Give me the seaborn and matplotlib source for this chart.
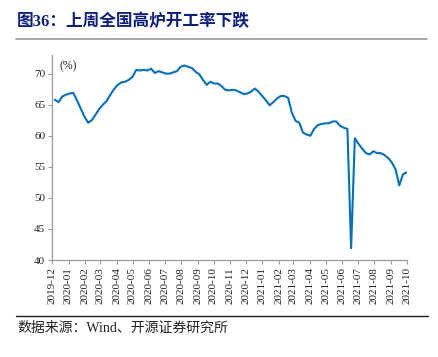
import numpy as np
import pandas as pd
import matplotlib
matplotlib.use("Agg")
import matplotlib.pyplot as plt
import matplotlib.dates as mdates
import seaborn as sns

# Weekly blast furnace operating rate (%)
dates = pd.date_range("2019-12-06", periods=96, freq="7D")
rate = [
    65.8, 65.4, 66.3, 66.6, 66.8, 66.9, 65.7, 64.4, 63.1, 62.1,
    62.5, 63.4, 64.3, 65.0, 65.6, 66.6, 67.5, 68.2, 68.6, 68.7,
    69.0, 69.5, 70.6, 70.5, 70.6, 70.5, 70.8, 70.1, 70.4, 70.2,
    70.0, 70.0, 70.2, 70.4, 71.1, 71.3, 71.1, 70.9, 70.3, 69.9,
    69.0, 68.2, 68.7, 68.4, 68.4, 68.0, 67.4, 67.3, 67.4, 67.3,
    67.0, 66.7, 66.8, 67.1, 67.6, 67.1, 66.4, 65.7, 64.9, 65.4,
    66.0, 66.4, 66.4, 66.1, 63.7, 62.4, 62.1, 60.5, 60.2, 60.0,
    61.1, 61.7, 61.9, 62.0, 62.0, 62.3, 62.3, 61.6, 61.3, 61.1,
    41.9, 59.6, 58.7, 57.9, 57.2, 57.0, 57.5, 57.2, 57.2, 56.9,
    56.4, 55.7, 54.6, 52.0, 53.8, 54.1,
]
yticks = [40, 45, 50, 55, 60, 65, 70]

title = "图36：上周全国高炉开工率下跌"
source = "数据来源：Wind、开源证券研究所"

df = pd.DataFrame({"date": dates, "rate": rate})

sns.set_style("ticks")
plt.rcParams["font.family"] = ["Liberation Serif", "Noto Sans CJK SC"]

fig = plt.figure(figsize=(4.38, 3.57), dpi=100)
ax = fig.add_axes([0.119, 0.2717, 0.8095, 0.5743])

sns.lineplot(data=df, x="date", y="rate", ax=ax, color="#0070C0", linewidth=1.5)

ax.set_ylim(40, 73)
ax.set_yticks(yticks)
ax.set_xlim(pd.Timestamp("2019-12-01"), pd.Timestamp("2021-10-01"))
ax.xaxis.set_major_locator(mdates.MonthLocator())
ax.xaxis.set_major_formatter(mdates.DateFormatter("%Y-%m"))
ax.set_xlabel("")
ax.set_ylabel("")
for lab in ax.get_xticklabels():
    lab.set_rotation(90)
ax.tick_params(axis="both", labelsize=8, length=3, width=0.8, color="#999999",
               pad=2, labelcolor="#222222")

sns.despine(ax=ax)
for s in ["left", "bottom"]:
    ax.spines[s].set_color("#999999")
    ax.spines[s].set_linewidth(0.9)

ax.text(0.022, 0.975, "(%)", transform=ax.transAxes, fontsize=8.5,
        color="#222222", va="top", ha="left")

# header and footer
fig.text(0.039, 0.938, title, fontsize=12, fontweight="bold", color="#0d2080",
         family=["Liberation Serif", "Noto Sans CJK SC"], va="center", ha="left")
fig.add_artist(plt.Line2D([0.036, 0.975], [0.892, 0.892], color="#999999",
                          linewidth=1.2, transform=fig.transFigure))
fig.add_artist(plt.Line2D([0.036, 0.978], [0.115, 0.115], color="#222222",
                          linewidth=1.0, transform=fig.transFigure))
fig.text(0.039, 0.08, source, fontsize=10, color="#222222",
         family=["Liberation Serif", "Noto Sans CJK SC"], va="center", ha="left")

fig.savefig("out.png", dpi=100)
